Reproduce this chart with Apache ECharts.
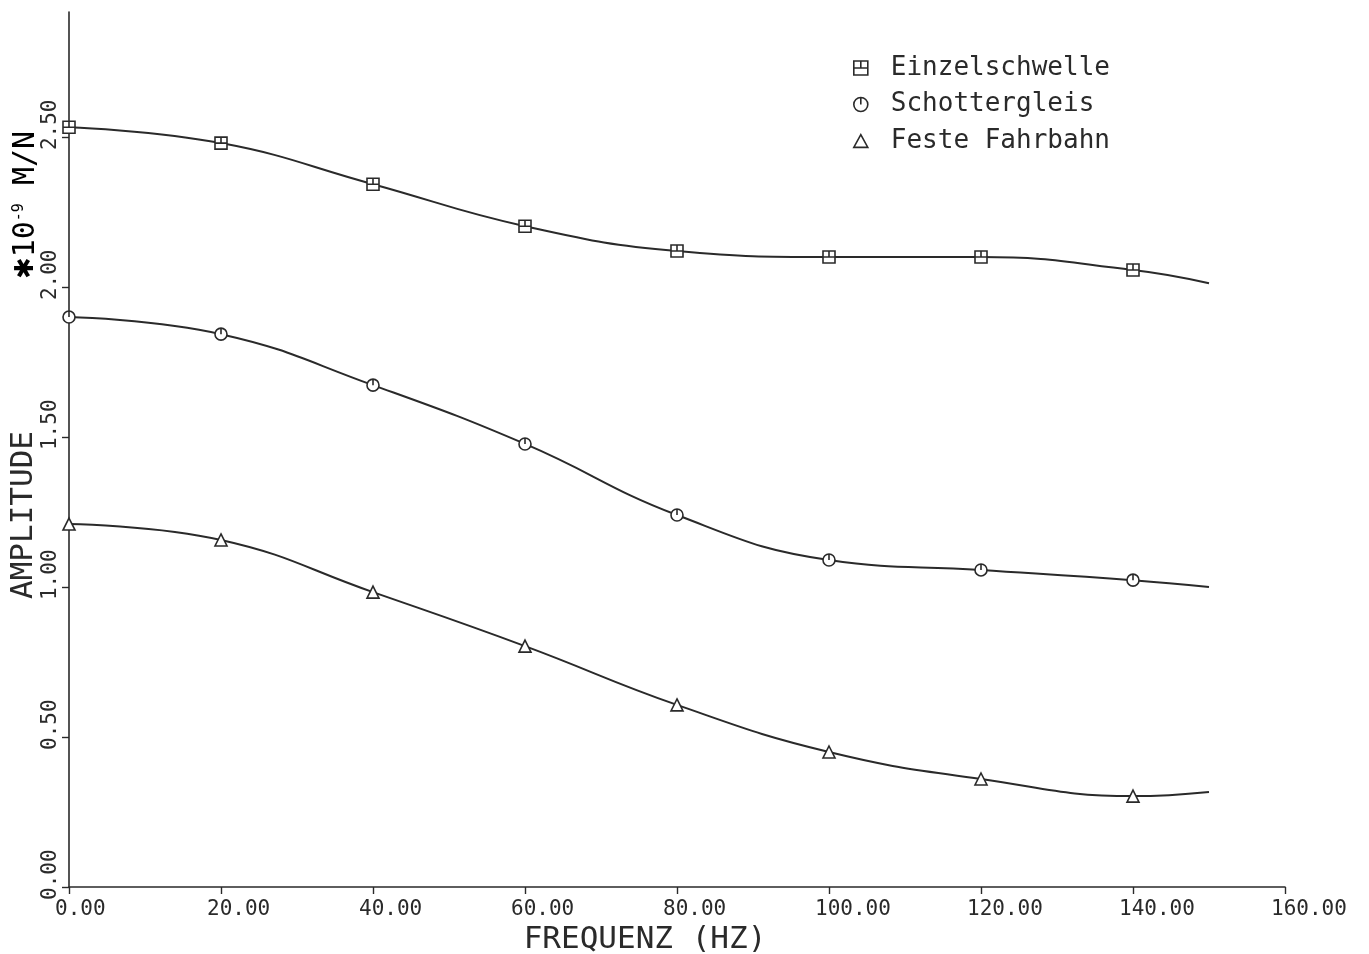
<!DOCTYPE html>
<html><head><meta charset="utf-8">
<script src="https://cdn.jsdelivr.net/npm/echarts@6/dist/echarts.min.js"></script>
<style>html,body{margin:0;padding:0;background:#fff}#c{width:1369px;height:954px}</style>
</head><body><div id="c"></div>
<script>
// Frequency (Hz) at which values were read; the last one (150) is the curve end without marker
const freq = [0, 20, 40, 60, 80, 100, 120, 140, 150];
const einzelschwelle = [2.533, 2.48, 2.343, 2.203, 2.12, 2.10, 2.10, 2.057, 2.013];
const schottergleis  = [1.90, 1.843, 1.673, 1.477, 1.24, 1.09, 1.057, 1.023, 1.0];
const festeFahrbahn  = [1.21, 1.157, 0.983, 0.803, 0.607, 0.45, 0.36, 0.303, 0.317];
const seriesNames = ['Einzelschwelle', 'Schottergleis', 'Feste Fahrbahn'];
const xTicks = [0, 20, 40, 60, 80, 100, 120, 140, 160];
const yTicks = [0, 0.5, 1.0, 1.5, 2.0, 2.5];

const INK = '#2a2a2a';
const MONO = "'DejaVu Sans Mono','Liberation Mono',monospace";
const symbols = [
  'path://M0,0H12V12H0Z M0,6H12 M6,0V6',
  'path://M12,6A6,6 0 1 1 0,6A6,6 0 1 1 12,6Z M6,0V6',
  'path://M6,0L12,11H0Z'
];
const values = [einzelschwelle, schottergleis, festeFahrbahn];

function buildData(vals) {
  return freq.map((f, i) => {
    const item = { value: [f, vals[i]] };
    if (f > 140) item.symbol = 'none';
    return item;
  });
}

const chart = echarts.init(document.getElementById('c'), null, { renderer: 'canvas' });
chart.setOption({
  backgroundColor: '#fff',
  animation: false,
  grid: { left: 69, right: 84, top: 12, bottom: 67, outerBoundsMode: 'none' },
  legend: {
    orient: 'vertical',
    left: 848, top: 48,
    itemWidth: 14, itemHeight: 14, itemGap: 6.5,
    data: seriesNames.map((n, i) => ({ name: n, icon: symbols[i] })),
    textStyle: { fontFamily: MONO, fontSize: 26, color: INK, lineHeight: 30, padding: [0, 0, 0, 18] },
    itemStyle: { color: '#fff', borderColor: INK, borderWidth: 1.6 }
  },
  xAxis: {
    type: 'value', min: 0, max: 160, interval: 20,
    name: 'FREQUENZ (HZ)', nameLocation: 'middle', nameGap: 28,
    nameTextStyle: { fontFamily: MONO, fontSize: 31, color: INK, padding: [0, 64, 0, 0] },
    axisLine: { lineStyle: { color: INK, width: 1.6 } },
    axisTick: { show: true, inside: false, length: 7, lineStyle: { color: INK, width: 1.4 }, customValues: xTicks },
    axisLabel: {
      customValues: xTicks, fontFamily: MONO, fontSize: 21, color: INK,
      align: 'left', padding: [0, 0, 0, -14], margin: 12,
      formatter: v => v.toFixed(2)
    },
    splitLine: { show: false }
  },
  yAxis: {
    type: 'value', min: 0, max: 2.917, interval: 0.5,
    axisLine: { show: true, lineStyle: { color: INK, width: 1.6 } },
    axisTick: { show: true, inside: false, length: 7, lineStyle: { color: INK, width: 1.4 }, customValues: yTicks },
    axisLabel: {
      customValues: yTicks, rotate: 90, fontFamily: MONO, fontSize: 21, color: INK,
      align: 'left', padding: [0, 0, 0, -13], margin: 8,
      formatter: v => v.toFixed(2)
    },
    splitLine: { show: false }
  },
  graphic: [
    {
      type: 'text', x: 24, y: 515, rotation: Math.PI / 2,
      style: { text: 'AMPLITUDE', fontFamily: MONO, fontSize: 31, fill: INK, align: 'center', verticalAlign: 'middle' }
    },
    {
      type: 'text', x: 26, y: 205, rotation: Math.PI / 2,
      style: {
        text: '{a|✱}{b|10}{s|-9}{b| M/N}', align: 'center', verticalAlign: 'middle',
        rich: {
          a: { fontFamily: 'DejaVu Sans', fontSize: 26, color: INK },
          b: { fontFamily: MONO, fontSize: 30, color: INK },
          s: { fontFamily: MONO, fontSize: 15, color: INK, padding: [0, 0, 14, 0] }
        }
      }
    }
  ],
  series: values.map((vals, i) => ({
    name: seriesNames[i],
    type: 'line',
    smooth: 0.45,
    data: buildData(vals),
    symbol: symbols[i],
    symbolSize: 12,
    showAllSymbol: true,
    lineStyle: { color: INK, width: 2 },
    itemStyle: { color: '#fff', borderColor: INK, borderWidth: 1.6 },
    z: 3
  }))
});
</script>
</body></html>
